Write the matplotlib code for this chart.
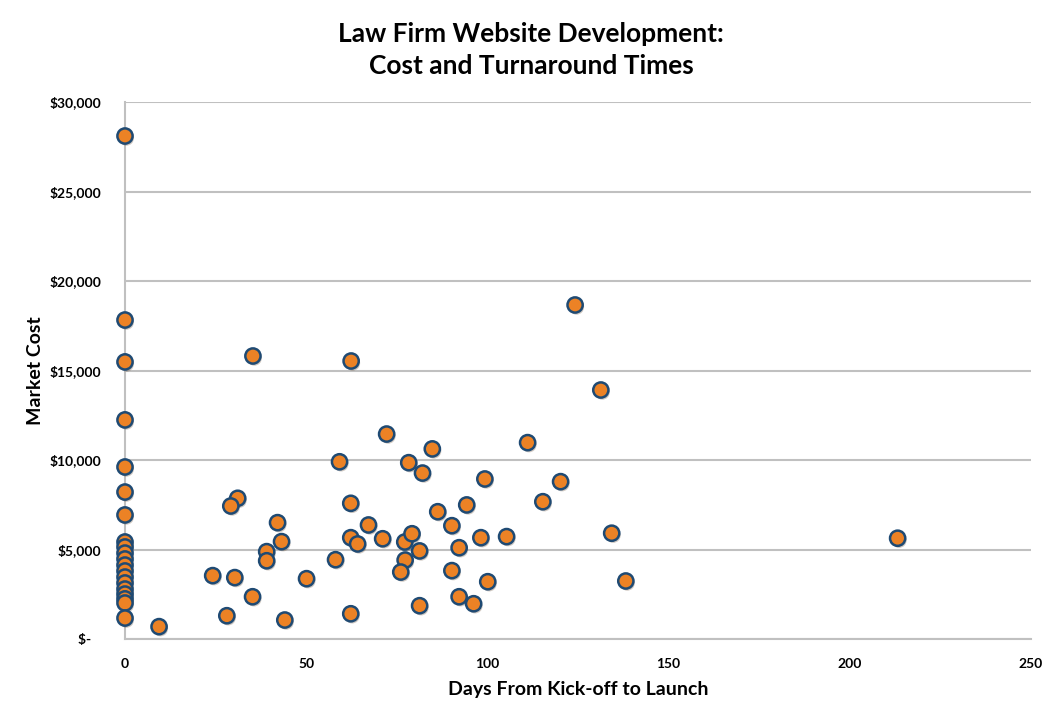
import matplotlib
matplotlib.use("Agg")
import matplotlib.pyplot as plt
import matplotlib.patheffects as pe
from matplotlib.ticker import FuncFormatter

days = [0, 0, 0, 0, 0, 0, 0, 0, 0, 0, 0, 0, 0, 0, 0, 0, 0, 0, 0, 0,
        9.4, 35.3, 62.4, 213.2,
        59.2, 31.1, 29.2, 42.1, 43.2, 39.1, 39.1, 24.2, 30.3, 35.2, 28.1, 44.1,
        50.1, 58.1, 62.3, 62.3, 64.2, 62.3,
        72.2, 84.8, 78.3, 82.1, 99.3, 94.3, 86.3, 67.2, 90.2, 71.1, 77.2, 79.2,
        81.3, 98.2, 105.3, 92.2, 77.3, 76.1, 90.2, 100.1, 92.2, 96.2, 81.3,
        124.2, 131.3, 111.1, 120.2, 115.3, 134.3, 138.2]
cost = [28100, 17820, 15480, 12240, 9610, 8210, 6930,
        5420, 5140, 4800, 4470, 4130, 3800, 3460, 3130, 2790, 2510, 2240, 2010, 1170,
        690, 15810, 15530, 5630,
        9900, 7860, 7430, 6500, 5440, 4880, 4370, 3540, 3430, 2360, 1300, 1060,
        3370, 4430, 7580, 5660, 5310, 1410,
        11450, 10620, 9850, 9270, 8940, 7490, 7110, 6370, 6330, 5600, 5420, 5880,
        4920, 5660, 5720, 5100, 4410, 3740, 3820, 3200, 2360, 1970, 1860,
        18660, 13910, 10970, 8790, 7670, 5910, 3240]

x_ticks = [0, 50, 100, 150, 200, 250]
y_ticks = [0, 5000, 10000, 15000, 20000, 25000, 30000]

plt.rcParams['font.family'] = ['Lato', 'DejaVu Sans']

fig = plt.figure(figsize=(10.62, 7.12), dpi=100)
ax = fig.add_axes([125/1062, 1 - 639/712, (1031 - 125)/1062, (639 - 102)/712])

ax.scatter(days, cost, s=120, facecolor='#EC8225', edgecolor='#1F4A73',
           linewidths=1.8, zorder=3, clip_on=False,
           path_effects=[pe.SimplePatchShadow(offset=(1, -1.5), alpha=0.25), pe.Normal()])

ax.set_xlim(0, 250)
ax.set_ylim(0, 30000)
ax.set_xticks(x_ticks)
ax.set_yticks(y_ticks)

def fmt(v, pos):
    if v == 0:
        return "$-   "
    return "${:,.0f}".format(v)

ax.yaxis.set_major_formatter(FuncFormatter(fmt))
ax.grid(axis='y', color='#C0C0C0', linewidth=1.5, zorder=0)
ax.set_axisbelow(True)
for s in ['top', 'right']:
    ax.spines[s].set_visible(False)
ax.spines['left'].set_color('#C0C0C0')
ax.spines['left'].set_linewidth(1.5)
ax.spines['bottom'].set_color('#C0C0C0')
ax.spines['bottom'].set_linewidth(1.5)
ax.tick_params(axis='both', length=0, labelsize=10)
ax.tick_params(axis='y', pad=17)
ax.tick_params(axis='x', pad=14)
for lab in ax.get_xticklabels() + ax.get_yticklabels():
    lab.set_fontweight('bold')

ax.set_xlabel("Days From Kick-off to Launch", fontsize=14, fontweight='bold')
ax.set_ylabel("Market Cost", fontsize=14, fontweight='bold')
ax.xaxis.set_label_coords(0.5, (639 - 689) / 537, transform=ax.transAxes)
ax.xaxis.label.set_va('center')
ax.yaxis.set_label_coords((36 - 125) / 906, 0.5, transform=ax.transAxes)
ax.yaxis.label.set_va('center')

fig.text(0.5, 1 - 50/712, "Law Firm Website Development:\nCost and Turnaround Times",
         ha='center', va='center', fontsize=19, fontweight='bold', linespacing=1.35)

fig.savefig("out.png", dpi=100)
